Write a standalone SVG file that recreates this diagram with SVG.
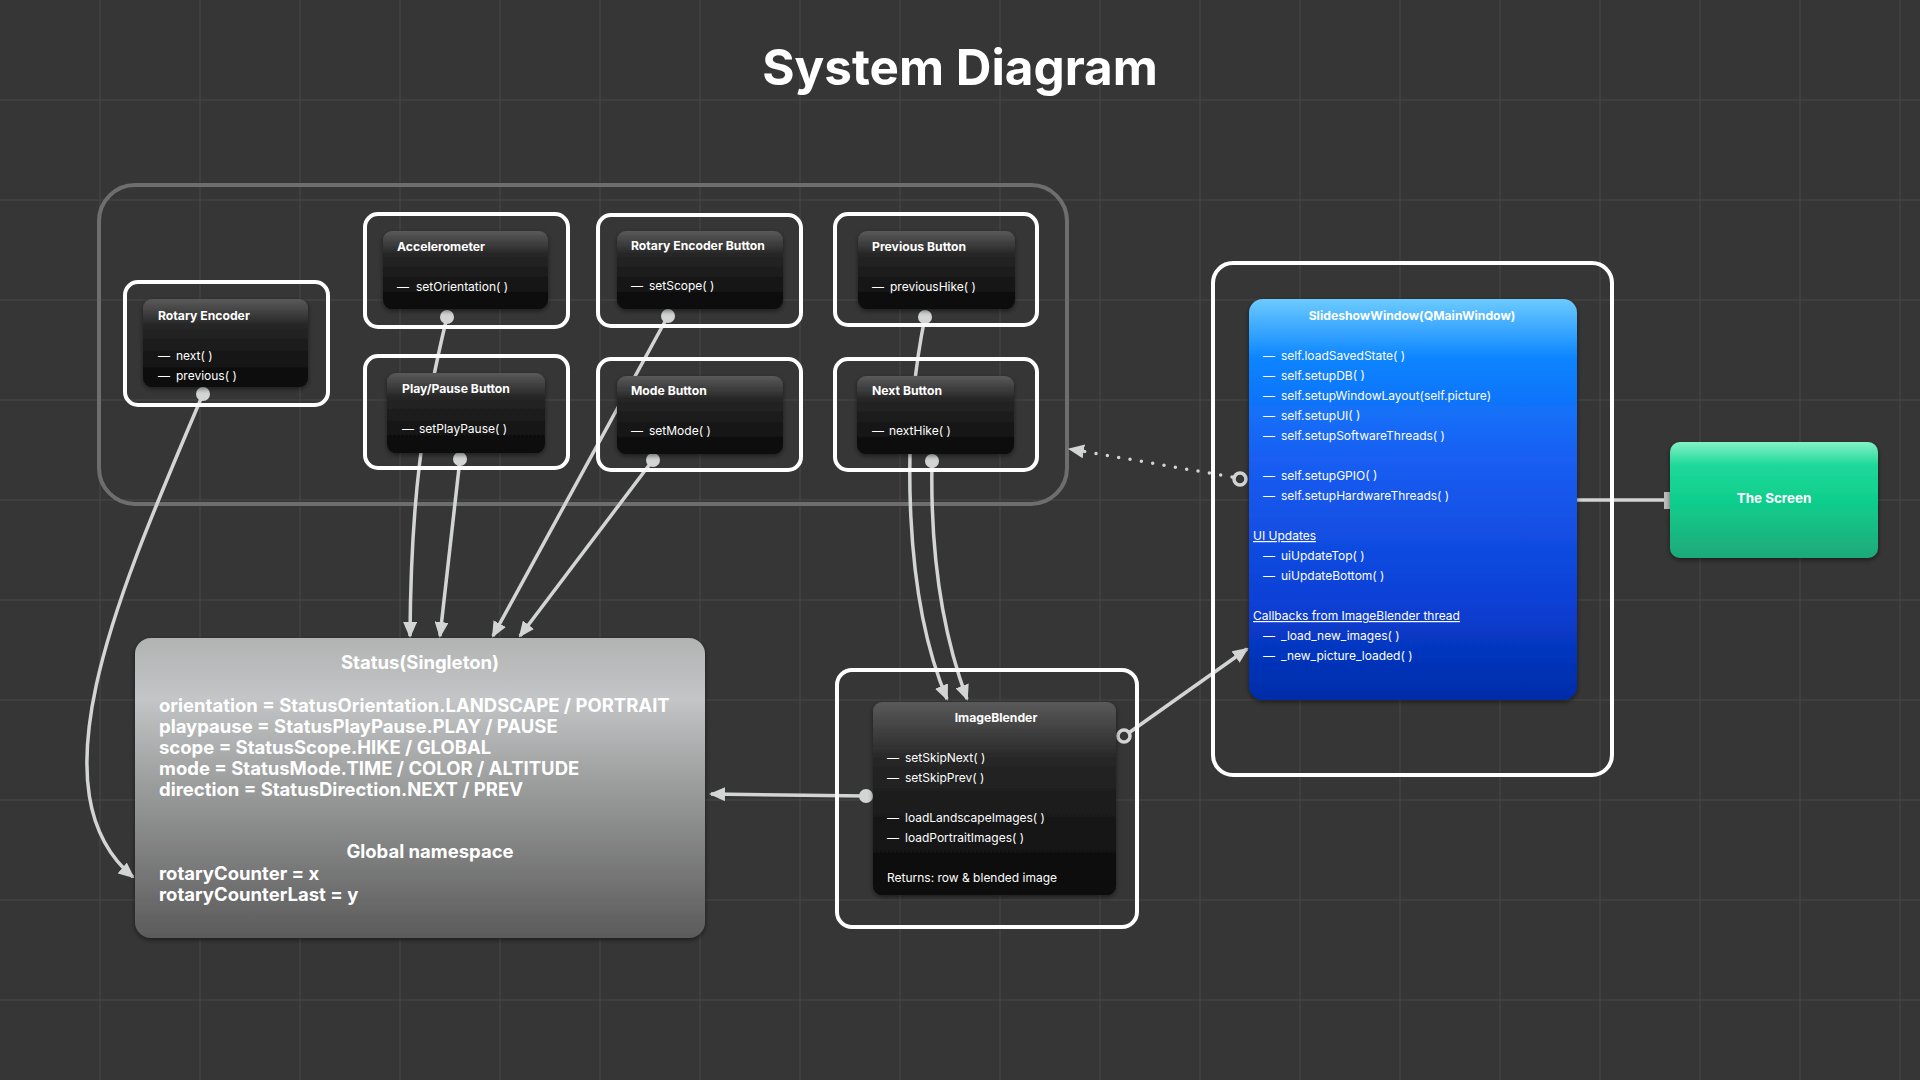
<svg xmlns="http://www.w3.org/2000/svg" width="1920" height="1080" viewBox="0 0 1920 1080">
<style>
.grid{stroke:#484848;stroke-width:1}
.frame{fill:none;stroke:#ffffff;stroke-width:4}
.card{fill:url(#gDark);filter:url(#sh)}
.ttl{font-family:Inter,"Liberation Sans",sans-serif;font-weight:700;font-size:12.2px;fill:#ffffff}
.itm{font-family:Inter,"Liberation Sans",sans-serif;font-size:12px;fill:#ffffff}
.st{font-family:Inter,"Liberation Sans",sans-serif;font-weight:700;font-size:18.5px;fill:#ffffff}
.conn{fill:none;stroke:#d3d5d5;stroke-width:3.5}
.dot{fill:#d3d5d5}
.ring{fill:#363636;stroke:#d3d5d5;stroke-width:3.5}
.u{text-decoration:underline}
</style>
<defs>
<linearGradient id="gDark" x1="0" y1="0" x2="0" y2="1">
<stop offset="0" stop-color="#5a5a5a"/>
<stop offset="0.3" stop-color="#262626"/>
<stop offset="1" stop-color="#080808"/>
</linearGradient>
<linearGradient id="gStatus" x1="0" y1="0" x2="0" y2="1">
<stop offset="0" stop-color="#b2b3b3"/>
<stop offset="0.2" stop-color="#c3c5c6"/>
<stop offset="0.5" stop-color="#9a9b9b"/>
<stop offset="1" stop-color="#5b5b5b"/>
</linearGradient>
<linearGradient id="gBlue" x1="0" y1="0" x2="0" y2="1">
<stop offset="0" stop-color="#6ccbff"/>
<stop offset="0.15" stop-color="#0a84ff"/>
<stop offset="0.4" stop-color="#1a5ef2"/>
<stop offset="0.75" stop-color="#0b40d6"/>
<stop offset="1" stop-color="#002ca8"/>
</linearGradient>
<linearGradient id="gGreen" x1="0" y1="0" x2="0" y2="1">
<stop offset="0" stop-color="#84f2c6"/>
<stop offset="0.2" stop-color="#1ed89a"/>
<stop offset="0.5" stop-color="#0fcf8d"/>
<stop offset="1" stop-color="#1fa97a"/>
</linearGradient>
<filter id="sh" x="-10%" y="-10%" width="120%" height="130%">
<feDropShadow dx="0" dy="2" stdDeviation="2.5" flood-color="#000" flood-opacity="0.5"/>
</filter>
<marker id="arr" viewBox="0 0 16 14" markerWidth="16" markerHeight="14" refX="14" refY="7" orient="auto" markerUnits="userSpaceOnUse">
<path d="M0,0 L16,7 L0,14 z" fill="#d3d5d5"/>
</marker>
</defs>
<rect width="1920" height="1080" fill="#363636"/>
<g id="grid">
<path class="grid" d="M100,0V1080M200,0V1080M300,0V1080M400,0V1080M500,0V1080M600,0V1080M700,0V1080M800,0V1080M900,0V1080M1000,0V1080M1100,0V1080M1200,0V1080M1300,0V1080M1400,0V1080M1500,0V1080M1600,0V1080M1700,0V1080M1800,0V1080M1900,0V1080M0,100H1920M0,200H1920M0,300H1920M0,400H1920M0,500H1920M0,600H1920M0,700H1920M0,800H1920M0,900H1920M0,1000H1920"/>
</g>
<text x="960" y="85" text-anchor="middle" font-family="Inter,'Liberation Sans',sans-serif" font-weight="700" font-size="49.4" fill="#ffffff">System Diagram</text>
<g id="input-group">
<rect x="99" y="185" width="968" height="319" rx="36" fill="none" stroke="#6e6e6e" stroke-width="4"/>
</g>
<g id="connectors">
<path class="conn" d="M203,394 C120,590 30,790 133,877" marker-end="url(#arr)"/>
<path class="conn" d="M447,317 C422,420 411,500 410,636" marker-end="url(#arr)"/>
<path class="conn" d="M460,459 L440,636" marker-end="url(#arr)"/>
<path class="conn" d="M668,316 L493,636" marker-end="url(#arr)"/>
<path class="conn" d="M653,460 L520,636" marker-end="url(#arr)"/>
<path class="conn" d="M925,317 C900,440 905,600 947,699" marker-end="url(#arr)"/>
<path class="conn" d="M932,461 C930,560 945,640 967,699" marker-end="url(#arr)"/>
<path class="conn" d="M866,796 L711,794" marker-end="url(#arr)"/>
<path class="conn" d="M1130,732 L1247,649" marker-end="url(#arr)"/>
<path class="conn" d="M1232,477 L1070,449" stroke-dasharray="0 11.5" stroke-linecap="round" marker-end="url(#arr)"/>
<path class="conn" d="M1577,500 L1667,500"/>
<rect x="1664" y="492" width="6" height="17" fill="#bdbdbd"/>
<circle class="dot" cx="203" cy="394" r="7"/>
<circle class="dot" cx="447" cy="317" r="7"/>
<circle class="dot" cx="460" cy="459" r="7"/>
<circle class="dot" cx="668" cy="316" r="7"/>
<circle class="dot" cx="653" cy="460" r="7"/>
<circle class="dot" cx="925" cy="317" r="7"/>
<circle class="dot" cx="932" cy="461" r="7"/>
<circle class="dot" cx="866" cy="796" r="7"/>
<circle class="ring" cx="1124" cy="736" r="6"/>
<circle class="ring" cx="1240" cy="479" r="6"/>
</g>
<g id="rotary-encoder">
<rect class="frame" x="125" y="282" width="203" height="123" rx="13"/>
<rect class="card" x="143" y="299" width="165" height="88" rx="9"/>
<text class="ttl" x="158" y="320">Rotary Encoder</text>
<text class="itm" y="360"><tspan x="158">—</tspan><tspan x="176">next( )</tspan></text>
<text class="itm" y="380"><tspan x="158">—</tspan><tspan x="176">previous( )</tspan></text>
</g>
<g id="accelerometer">
<rect class="frame" x="365" y="214" width="203" height="113" rx="13"/>
<rect class="card" x="383" y="231" width="165" height="78" rx="9"/>
<text class="ttl" x="397" y="251">Accelerometer</text>
<text class="itm" y="291"><tspan x="397">—</tspan><tspan x="416">setOrientation( )</tspan></text>
</g>
<g id="play-pause-button">
<rect class="frame" x="365" y="356" width="203" height="112" rx="13"/>
<rect class="card" x="387" y="373" width="158" height="80" rx="9"/>
<text class="ttl" x="402" y="393">Play/Pause Button</text>
<text class="itm" y="433"><tspan x="402">—</tspan><tspan x="419">setPlayPause( )</tspan></text>
</g>
<g id="rotary-encoder-button">
<rect class="frame" x="598" y="215" width="203" height="111" rx="13"/>
<rect class="card" x="617" y="231" width="166" height="78" rx="9"/>
<text class="ttl" x="631" y="250">Rotary Encoder Button</text>
<text class="itm" y="290"><tspan x="631">—</tspan><tspan x="649">setScope( )</tspan></text>
</g>
<g id="mode-button">
<rect class="frame" x="598" y="359" width="203" height="111" rx="13"/>
<rect class="card" x="617" y="376" width="166" height="78" rx="9"/>
<text class="ttl" x="631" y="395">Mode Button</text>
<text class="itm" y="435"><tspan x="631">—</tspan><tspan x="649">setMode( )</tspan></text>
</g>
<g id="previous-button">
<rect class="frame" x="835" y="214" width="202" height="111" rx="13"/>
<rect class="card" x="858" y="231" width="157" height="78" rx="9"/>
<text class="ttl" x="872" y="251">Previous Button</text>
<text class="itm" y="291"><tspan x="872">—</tspan><tspan x="890">previousHike( )</tspan></text>
</g>
<g id="next-button">
<rect class="frame" x="835" y="359" width="202" height="111" rx="13"/>
<rect class="card" x="857" y="376" width="157" height="78" rx="9"/>
<text class="ttl" x="872" y="395">Next Button</text>
<text class="itm" y="435"><tspan x="872">—</tspan><tspan x="889">nextHike( )</tspan></text>
</g>
<g id="status">
<rect x="135" y="638" width="570" height="300" rx="16" fill="url(#gStatus)" filter="url(#sh)"/>
<text class="st" x="420" y="669" text-anchor="middle">Status(Singleton)</text>
<text class="st" x="159" y="712">orientation = StatusOrientation.LANDSCAPE / PORTRAIT</text>
<text class="st" x="159" y="733">playpause = StatusPlayPause.PLAY / PAUSE</text>
<text class="st" x="159" y="754">scope = StatusScope.HIKE / GLOBAL</text>
<text class="st" x="159" y="775">mode = StatusMode.TIME / COLOR / ALTITUDE</text>
<text class="st" x="159" y="796">direction = StatusDirection.NEXT / PREV</text>
<text class="st" x="430" y="858" text-anchor="middle">Global namespace</text>
<text class="st" x="159" y="880">rotaryCounter = x</text>
<text class="st" x="159" y="901">rotaryCounterLast = y</text>
</g>
<g id="image-blender">
<rect class="frame" x="837" y="670" width="300" height="257" rx="15"/>
<rect class="card" x="873" y="702" width="243" height="193" rx="9"/>
<text class="ttl" x="996" y="722" text-anchor="middle">ImageBlender</text>
<text class="itm" y="762"><tspan x="887">—</tspan><tspan x="905">setSkipNext( )</tspan></text>
<text class="itm" y="782"><tspan x="887">—</tspan><tspan x="905">setSkipPrev( )</tspan></text>
<text class="itm" y="822"><tspan x="887">—</tspan><tspan x="905">loadLandscapeImages( )</tspan></text>
<text class="itm" y="842"><tspan x="887">—</tspan><tspan x="905">loadPortraitImages( )</tspan></text>
<text class="itm" x="887" y="882">Returns: row &amp; blended image</text>
</g>
<g id="slideshow-window">
<rect class="frame" x="1213" y="263" width="399" height="512" rx="20"/>
<rect x="1249" y="299" width="328" height="401" rx="14" fill="url(#gBlue)" filter="url(#sh)"/>
<text class="ttl" x="1412" y="320" text-anchor="middle">SlideshowWindow(QMainWindow)</text>
<text class="itm" y="360"><tspan x="1263">—</tspan><tspan x="1281">self.loadSavedState( )</tspan></text>
<text class="itm" y="380"><tspan x="1263">—</tspan><tspan x="1281">self.setupDB( )</tspan></text>
<text class="itm" y="400"><tspan x="1263">—</tspan><tspan x="1281">self.setupWindowLayout(self.picture)</tspan></text>
<text class="itm" y="420"><tspan x="1263">—</tspan><tspan x="1281">self.setupUI( )</tspan></text>
<text class="itm" y="440"><tspan x="1263">—</tspan><tspan x="1281">self.setupSoftwareThreads( )</tspan></text>
<text class="itm" y="480"><tspan x="1263">—</tspan><tspan x="1281">self.setupGPIO( )</tspan></text>
<text class="itm" y="500"><tspan x="1263">—</tspan><tspan x="1281">self.setupHardwareThreads( )</tspan></text>
<text class="itm u" x="1253" y="540">UI Updates</text>
<text class="itm" y="560"><tspan x="1263">—</tspan><tspan x="1281">uiUpdateTop( )</tspan></text>
<text class="itm" y="580"><tspan x="1263">—</tspan><tspan x="1281">uiUpdateBottom( )</tspan></text>
<text class="itm u" x="1253" y="620">Callbacks from ImageBlender thread</text>
<text class="itm" y="640"><tspan x="1263">—</tspan><tspan x="1281">_load_new_images( )</tspan></text>
<text class="itm" y="660"><tspan x="1263">—</tspan><tspan x="1281">_new_picture_loaded( )</tspan></text>
</g>
<g id="the-screen">
<rect x="1670" y="442" width="208" height="116" rx="10" fill="url(#gGreen)" filter="url(#sh)"/>
<text class="ttl" x="1774" y="503" text-anchor="middle" style="font-size:13.4px">The Screen</text>
</g>
</svg>
